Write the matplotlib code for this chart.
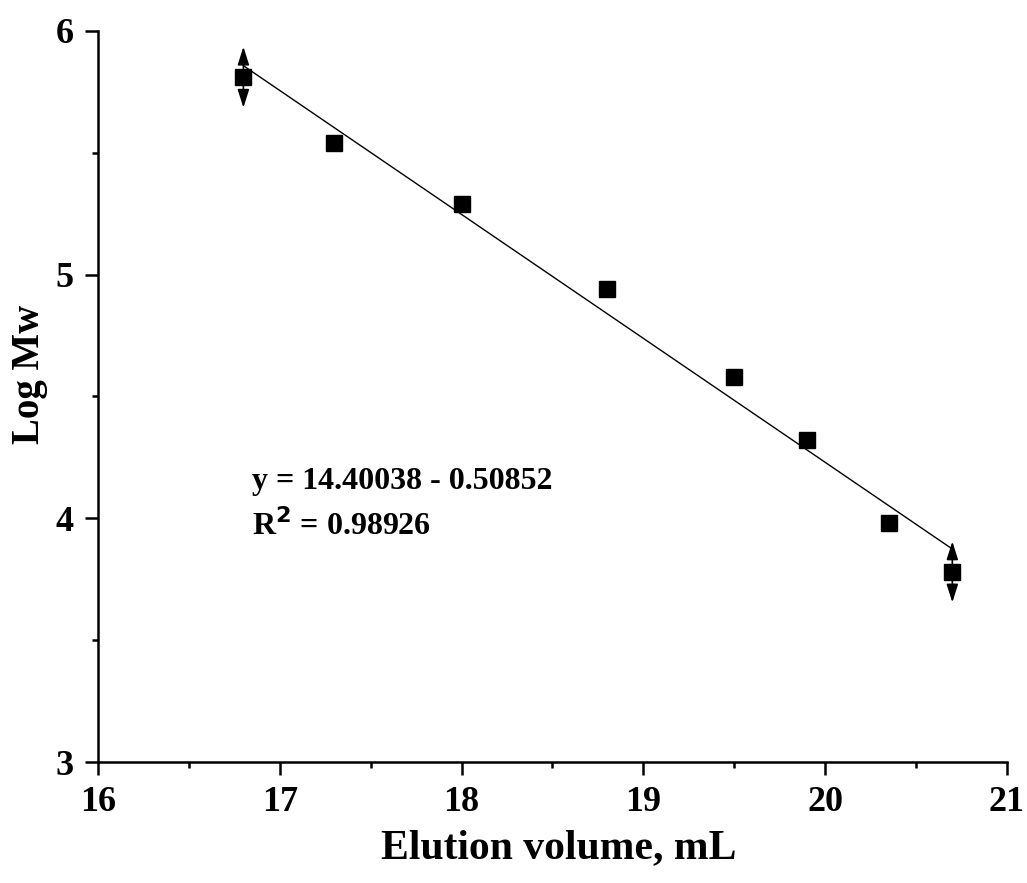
import numpy as np
import matplotlib.pyplot as plt
from matplotlib.ticker import MultipleLocator

# calibration standards
elution_ml = [16.80, 17.30, 18.00, 18.80, 19.50, 19.90, 20.35, 20.70]
log_mw = [5.81, 5.54, 5.29, 4.94, 4.58, 4.32, 3.98, 3.78]

# linear fit as printed on the chart
intercept = 14.40038
slope = -0.50852
r_squared = 0.98926

# points that carry the double arrow (first and last)
arrow_idx = [0, 7]
arrow_half = 0.125

plt.rcParams['font.family'] = ['Liberation Serif', 'DejaVu Serif']
plt.rcParams['font.weight'] = 'bold'

fig = plt.figure(figsize=(10.27, 8.83), dpi=100)
ax = fig.add_axes([0.0954, 0.137, 0.885, 0.828])

x = np.array(elution_ml)
y = np.array(log_mw)

# fit line over the data range
xf = np.array([x.min(), x.max()])
ax.plot(xf, intercept + slope * xf, color='black', lw=1.0)

ax.plot(x, y, 's', color='black', markersize=11)

for i in arrow_idx:
    ax.annotate('', xy=(x[i], y[i] + arrow_half), xytext=(x[i], y[i] - arrow_half),
                arrowprops=dict(arrowstyle='<|-|>,head_length=1.1,head_width=0.35',
                                color='black', lw=1.2, shrinkA=0, shrinkB=0))

ax.text(16.85, 4.12, 'y = 14.40038 - 0.50852', fontsize=23, fontweight='bold')
ax.text(16.85, 3.93, 'R$^\\mathbf{2}$ = 0.98926', fontsize=23, fontweight='bold')

ax.set_xlim(16, 21)
ax.set_ylim(3, 6)
ax.xaxis.set_major_locator(MultipleLocator(1))
ax.xaxis.set_minor_locator(MultipleLocator(0.5))
ax.yaxis.set_major_locator(MultipleLocator(1))
ax.yaxis.set_minor_locator(MultipleLocator(0.5))

ax.spines['top'].set_visible(False)
ax.spines['right'].set_visible(False)
for s in ['left', 'bottom']:
    ax.spines[s].set_linewidth(1.8)

ax.tick_params(which='major', direction='out', length=9.5, width=1.8, labelsize=26, pad=8)
ax.tick_params(which='minor', direction='out', length=4, width=1.8)
for lab in ax.get_xticklabels() + ax.get_yticklabels():
    lab.set_fontweight('bold')

ax.set_xlabel('Elution volume, mL', fontsize=30, fontweight='bold')
ax.set_ylabel('Log Mw', fontsize=28, fontweight='bold')
ax.xaxis.set_label_coords(0.507, -0.118)
ax.xaxis.label.set_va('center')
ax.yaxis.set_label_coords(-0.075, 0.53)
ax.yaxis.label.set_va('center')

fig.savefig('out.png', dpi=100)
